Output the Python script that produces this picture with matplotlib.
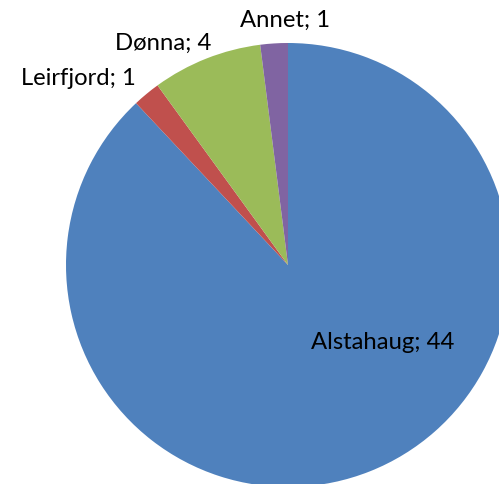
import matplotlib
matplotlib.use("Agg")
import matplotlib.pyplot as plt

categories = ["Alstahaug", "Leirfjord", "Dønna", "Annet"]
values = [44, 1, 4, 1]
colors = ["#4F81BD", "#C0504D", "#9BBB59", "#8064A2"]

W, H = 499, 484
fig = plt.figure(figsize=(W / 100, H / 100), dpi=100)
cx, cy, r = 288, 265, 222
ax = fig.add_axes([(cx - r) / W, (H - cy - r) / H, 2 * r / W, 2 * r / H])

labels = [f"{c}; {v}" for c, v in zip(categories, values)]
wedges, texts = ax.pie(values, colors=colors, startangle=90, counterclock=False,
                       radius=1, labels=labels, labeldistance=1.1,
                       wedgeprops=dict(linewidth=0),
                       textprops=dict(fontsize=17.2, family="Lato", color="#000000"))
ax.set_xlim(-1, 1)
ax.set_ylim(-1, 1)
ax.axis("off")
for w in wedges:
    w.set_clip_on(False)

pos = [(0.428, -0.351), (-0.946, 0.842), (-0.563, 1.0), (-0.0135, 1.104)]
for t, p in zip(texts, pos):
    t.set_position(p)
    t.set_ha("center")
    t.set_va("center")

fig.savefig("out.png", dpi=100)
